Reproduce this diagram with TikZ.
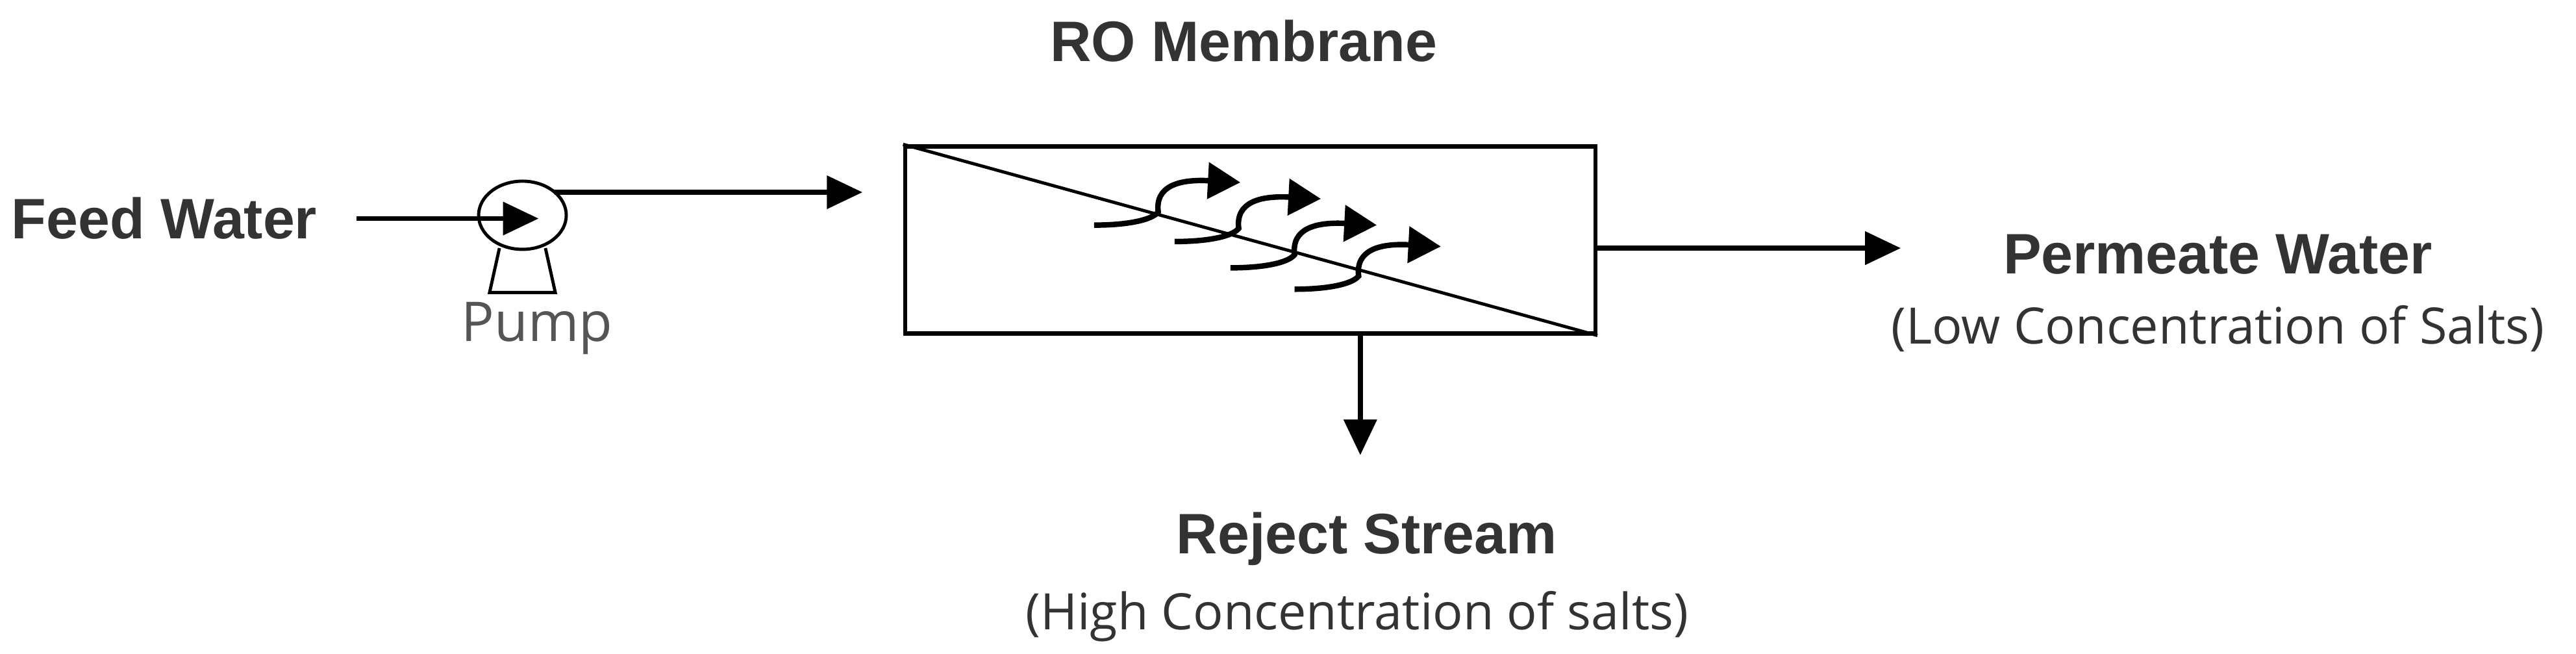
\documentclass[tikz,border=0pt]{standalone}
\usepackage{fontspec}
\setmainfont{Liberation Sans}
\newfontfamily\notefont{Open Sans}
\usetikzlibrary{arrows.meta,shapes.geometric}
\definecolor{ink}{HTML}{333333}
\definecolor{pumpgrey}{HTML}{555555}
\begin{document}
\begin{tikzpicture}[x=0.253mm,y=-0.253mm,
  heading/.style={text=ink,font=\fontsize{25}{30}\selectfont\bfseries,inner sep=0pt},
  note/.style={text=ink,font=\notefont\fontsize{22}{26}\selectfont,inner sep=0pt},
  flow/.style={line width=2.2pt,-{Triangle[length=5.5mm,width=5mm]}},
  salt/.style={line width=2.4pt,-{Triangle[length=5mm,width=5.5mm]}}]
\useasboundingbox (0,0) rectangle (1568,398);
\node[heading] (feed) at (100,133) {Feed Water};
\node[shape=ellipse,draw=black,line width=1.4pt,minimum width=1.35cm,minimum height=1.05cm,inner sep=0pt] (pump) at (318,131) {};
\draw[line width=1.4pt] (304,151) -- (298,178) -- (338,178) -- (332,151);
\node[note,text=pumpgrey,font=\notefont\fontsize{24}{28}\selectfont] (pumplabel) at (327,200) {Pump};
\node[shape=rectangle,draw=black,line width=1.8pt,minimum width=10.63cm,minimum height=2.88cm] (ro) at (761,146) {};
\node[heading] (rolabel) at (757,25) {RO Membrane};
\node[heading] (perm) at (1350,155) {Permeate Water};
\node[note] (permnote) at (1350,200) {(Low Concentration of Salts)};
\node[heading] (rej) at (832,328) {Reject Stream};
\node[note] (rejnote) at (826,375) {(High Concentration of salts)};
\coordinate (pumpin) at (217,133);
\coordinate (inlet) at (525,117);
\coordinate (permout) at (1157,151);
\coordinate (rejout) at (828,277);
\draw[flow] (pumpin) -- ([xshift=0.25cm]pump.center |- pumpin);
\draw[flow] (pump.north east |- inlet) -- (inlet);
\draw[line width=1.4pt] (ro.north west) -- (ro.south east);
\draw[flow] (ro.east |- permout) -- (permout);
\draw[flow] (ro.south -| rejout) -- (rejout);
\foreach \x/\y in {666/137,715/147,749/163,788/176}
  \draw[salt,shift={(\x,\y)}] (0,0) .. controls (20,0) and (35,-3) .. (39,-8) .. controls (37,-24) and (52,-28) .. (89,-26);
\end{tikzpicture}
\end{document}
